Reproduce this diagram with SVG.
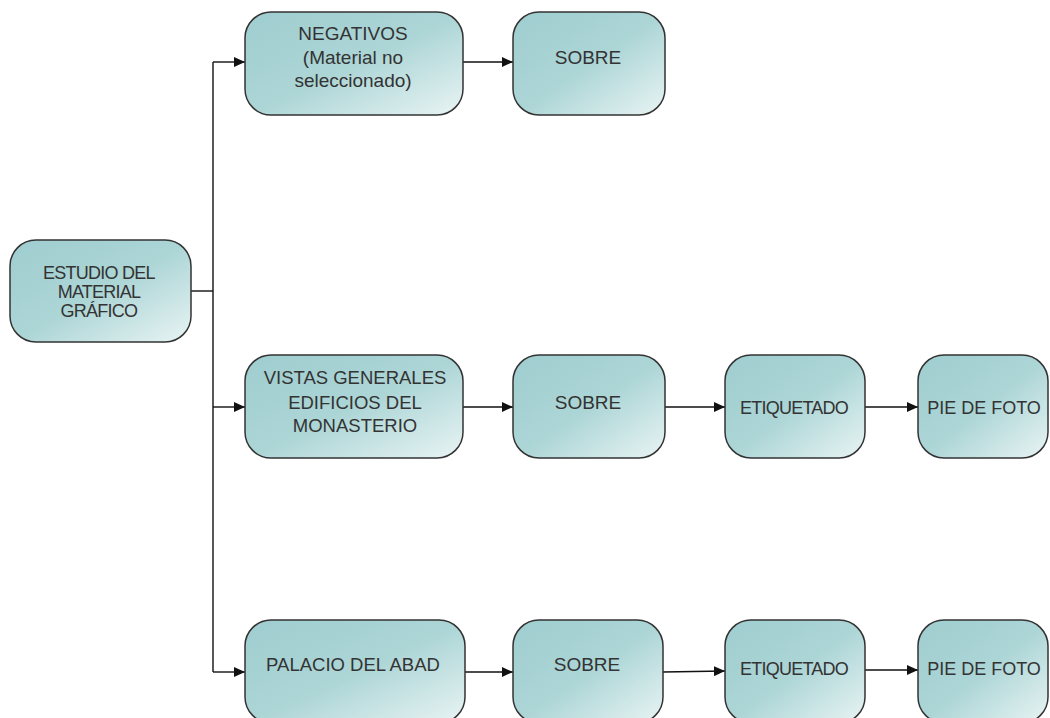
<svg xmlns="http://www.w3.org/2000/svg" width="1050" height="718" viewBox="0 0 1050 718">
<defs>
<linearGradient id="g" x1="0" y1="0" x2="1" y2="1">
<stop offset="0" stop-color="#9fcdcf"/>
<stop offset="0.5" stop-color="#acd5d6"/>
<stop offset="1" stop-color="#e9f4f4"/>
</linearGradient>
<marker id="ah" markerWidth="12" markerHeight="10" refX="11" refY="5" orient="auto" markerUnits="userSpaceOnUse">
<path d="M0,0 L11,5 L0,10 Z" fill="#111"/>
</marker>
<style>
.box{fill:url(#g);stroke:#333;stroke-width:1.5}
.t{font-family:"Liberation Sans",Arial,sans-serif;font-size:19px;fill:#333;text-anchor:middle}
.cn{font-size:18px;letter-spacing:-0.75px}
.s18{font-size:18px}
.s185{font-size:18.5px}
.c{fill:none;stroke:#111;stroke-width:1.4}
.a{marker-end:url(#ah)}
</style>
</defs>
<rect width="1050" height="718" fill="#fff"/>
<g id="connectors">
<path class="c" d="M191,291 H213"/>
<path class="c" d="M213,62 V672"/>
<path class="c a" d="M213,62 H245"/>
<path class="c a" d="M213,407 H245"/>
<path class="c a" d="M213,672 H245"/>
<path class="c a" d="M463,62 H513"/>
<path class="c a" d="M463,407 H513"/>
<path class="c a" d="M665,407 H725"/>
<path class="c a" d="M865,407 H918"/>
<path class="c a" d="M465,672 H513"/>
<path class="c a" d="M663,672 L725,671"/>
<path class="c a" d="M865,670 H918"/>
</g>
<g id="n-estudio">
<rect class="box" x="10" y="240" width="181" height="102" rx="26"/>
<text class="t cn" x="99" y="279">ESTUDIO DEL</text>
<text class="t cn" x="99" y="298">MATERIAL</text>
<text class="t cn" x="99" y="317">GRÁFICO</text>
</g>
<g id="n-negativos">
<rect class="box" x="245" y="12" width="218" height="103" rx="26"/>
<text class="t" x="353" y="40">NEGATIVOS</text>
<text class="t" x="353" y="64">(Material no</text>
<text class="t" x="353" y="87">seleccionado)</text>
</g>
<g id="n-sobre1">
<rect class="box" x="513" y="12" width="152" height="103" rx="26"/>
<text class="t" x="588" y="64">SOBRE</text>
</g>
<g id="n-vistas">
<rect class="box" x="245" y="355" width="218" height="103" rx="26"/>
<text class="t s185" x="355" y="384">VISTAS GENERALES</text>
<text class="t s185" x="355" y="409">EDIFICIOS DEL</text>
<text class="t s185" x="355" y="432">MONASTERIO</text>
</g>
<g id="n-sobre2">
<rect class="box" x="513" y="355" width="152" height="103" rx="26"/>
<text class="t" x="588" y="409">SOBRE</text>
</g>
<g id="n-etiq2">
<rect class="box" x="725" y="355" width="140" height="103" rx="26"/>
<text class="t cn" x="794" y="414">ETIQUETADO</text>
</g>
<g id="n-pie2">
<rect class="box" x="918" y="355" width="130" height="103" rx="26"/>
<text class="t s18" x="984" y="414">PIE DE FOTO</text>
</g>
<g id="n-palacio">
<rect class="box" x="245" y="620" width="220" height="103" rx="26"/>
<text class="t s185" x="353" y="671">PALACIO DEL ABAD</text>
</g>
<g id="n-sobre3">
<rect class="box" x="513" y="620" width="150" height="103" rx="26"/>
<text class="t" x="587" y="671">SOBRE</text>
</g>
<g id="n-etiq3">
<rect class="box" x="725" y="620" width="140" height="103" rx="26"/>
<text class="t cn" x="794" y="675">ETIQUETADO</text>
</g>
<g id="n-pie3">
<rect class="box" x="918" y="620" width="130" height="103" rx="26"/>
<text class="t s18" x="984" y="675">PIE DE FOTO</text>
</g>
</svg>
